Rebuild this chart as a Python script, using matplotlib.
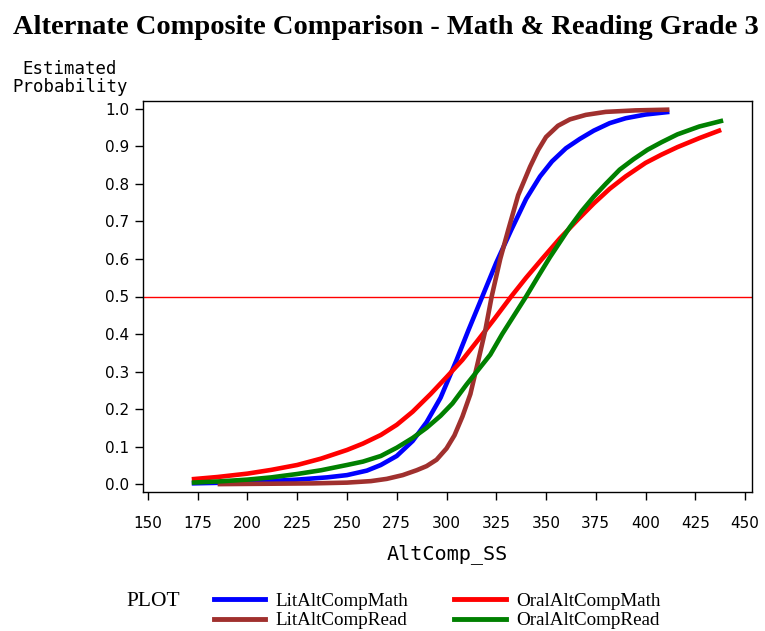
import matplotlib
matplotlib.use("Agg")
import matplotlib.pyplot as plt
from matplotlib.lines import Line2D

# ---- data ----
lit_math_x = [172, 190, 210, 225, 240, 250, 260, 267, 275, 283, 290, 297, 305, 311, 318, 325,
              332.5, 340, 347, 353, 360, 367, 374, 382, 390, 400, 412]
lit_math_y = [0.002, 0.004, 0.008, 0.012, 0.018, 0.024, 0.036, 0.051, 0.075, 0.115, 0.165, 0.23,
              0.33, 0.41, 0.50, 0.59, 0.677, 0.76, 0.82, 0.86, 0.895, 0.92, 0.942, 0.962, 0.975,
              0.985, 0.992]

lit_read_x = [185, 210, 233, 250, 262, 270, 278, 285, 290, 295, 300, 304, 308, 312, 316, 319.5,
              322.7, 327, 331, 336, 342, 346, 350, 356, 362, 370, 380, 395, 412]
lit_read_y = [0.0, 0.001, 0.002, 0.004, 0.008, 0.014, 0.024, 0.037, 0.048, 0.065, 0.095, 0.13,
              0.18, 0.24, 0.33, 0.41, 0.5, 0.6, 0.677, 0.77, 0.846, 0.89, 0.925, 0.955, 0.972,
              0.984, 0.992, 0.996, 0.998]

oral_math_x = [172, 185, 200, 212, 225, 237, 250, 258, 267, 275, 283, 292, 300, 308, 316, 324,
               332.5, 340, 348, 357, 366, 374, 382, 390, 400, 408, 416, 427, 438]
oral_math_y = [0.013, 0.019, 0.028, 0.038, 0.051, 0.068, 0.091, 0.108, 0.131, 0.158, 0.193, 0.24,
               0.285, 0.331, 0.385, 0.44, 0.5, 0.55, 0.6, 0.655, 0.705, 0.748, 0.787, 0.82, 0.856,
               0.878, 0.898, 0.922, 0.944]

oral_read_x = [172, 185, 200, 212, 225, 237, 250, 258, 267, 275, 283, 290, 297, 303, 310, 316,
               322, 328, 334, 340, 346, 352, 357, 362, 368, 374, 380, 387, 394, 401, 408, 416,
               427, 439]
oral_read_y = [0.004, 0.007, 0.012, 0.018, 0.027, 0.037, 0.051, 0.06, 0.075, 0.097, 0.123, 0.15,
               0.182, 0.215, 0.265, 0.305, 0.345, 0.40, 0.45, 0.5, 0.553, 0.605, 0.645, 0.685,
               0.728, 0.766, 0.80, 0.838, 0.866, 0.891, 0.911, 0.932, 0.953, 0.969]

x_ticks = [150, 175, 200, 225, 250, 275, 300, 325, 350, 375, 400, 425, 450]
y_ticks = [0.0, 0.1, 0.2, 0.3, 0.4, 0.5, 0.6, 0.7, 0.8, 0.9, 1.0]
ref_level = 0.5

series = [
    ("LitAltCompMath", lit_math_x, lit_math_y, "#0000FF"),
    ("LitAltCompRead", lit_read_x, lit_read_y, "#A0302E"),
    ("OralAltCompMath", oral_math_x, oral_math_y, "#FF0000"),
    ("OralAltCompRead", oral_read_x, oral_read_y, "#008000"),
]

fig = plt.figure(figsize=(7.65, 6.31), dpi=100)
ax = fig.add_axes([143 / 765, 1 - 492 / 631, (752 - 143) / 765, (492 - 101) / 631])

ax.axhline(ref_level, color="#FF0000", lw=1.0, zorder=1)

draw_order = [0, 2, 1, 3]
for i in draw_order:
    name, xs, ys, c = series[i]
    ax.plot(xs, ys, color=c, lw=3.3, solid_capstyle="butt", solid_joinstyle="round", zorder=2)

ax.set_xlim(147.5, 453.5)
ax.set_ylim(-0.021, 1.021)
ax.set_xticks(x_ticks)
ax.set_yticks(y_ticks)
ax.set_xticklabels([str(v) for v in x_ticks])
ax.set_yticklabels([f"{v:.1f}" for v in y_ticks])
ax.tick_params(direction="out", length=6, width=1, labelsize=11, pad=4)
ax.tick_params(axis="x", pad=11)
for s in ax.spines.values():
    s.set_linewidth(1.0)

ax.set_xlabel("AltComp_SS", family="DejaVu Sans Mono", fontsize=14.5, labelpad=10)

fig.text(70 / 765, 1 - 78 / 631, "Estimated\nProbability", family="DejaVu Sans Mono",
         fontsize=12.5, ha="center", va="center", linespacing=0.95)

fig.suptitle("Alternate Composite Comparison - Math & Reading Grade 3",
             family="Liberation Serif", fontweight="bold", fontsize=20.5, y=1 - 27 / 631,
             x=0.505, va="center")

handles = [Line2D([], [], color=c, lw=3.5) for (_, _, _, c) in series]
labels = [n for (n, _, _, _) in series]
fig.legend(handles, labels, ncol=2, loc="center left", bbox_to_anchor=(204 / 765, 1 - 611 / 631),
           frameon=False, prop={"family": "Liberation Serif", "size": 13.7},
           handlelength=2.7, columnspacing=2.45, labelspacing=0.1, handletextpad=0.53, borderpad=0)
fig.text(126 / 765, 1 - 601 / 631, "PLOT", family="Liberation Serif", fontsize=15.5,
         ha="left", va="center")

fig.savefig("out.png", dpi=100)
